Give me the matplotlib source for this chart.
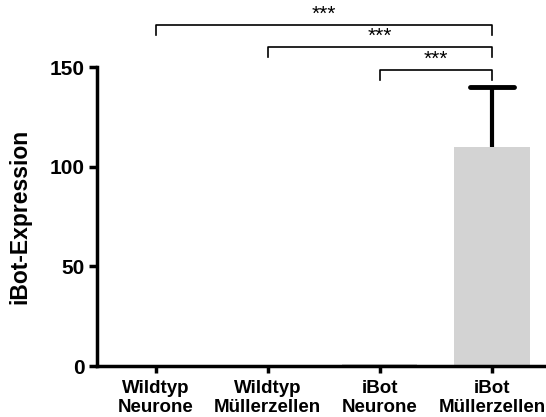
import matplotlib
matplotlib.use("Agg")
import matplotlib.pyplot as plt

plt.rcParams["font.family"] = ["Liberation Sans", "DejaVu Sans"]
plt.rcParams["font.weight"] = "bold"

categories = ["Wildtyp\nNeurone", "Wildtyp\nMüllerzellen", "iBot\nNeurone", "iBot\nMüllerzellen"]
expression = [0.0, 0.0, 0.8, 110.0]
error_up = [0.0, 0.0, 0.0, 30.0]
# (from index, to index, bracket height, label)
comparisons = [(0, 3, 171, "***"), (1, 3, 160, "***"), (2, 3, 148.5, "***")]

fig = plt.figure(figsize=(5.46, 4.17), dpi=100)
ax = fig.add_axes([0.178, 0.1223, 0.83, 0.717])

x = list(range(len(categories)))
ax.bar(x, expression, width=0.67, color="#d3d3d3", zorder=2)

# upward-only error bars
for xi, yi, e in zip(x, expression, error_up):
    if e > 0:
        ax.vlines(xi, yi, yi + e, color="black", lw=3, zorder=3, clip_on=False)
        ax.hlines(yi + e, xi - 0.2, xi + 0.2, color="black", lw=3.5,
                  zorder=3, clip_on=False, capstyle="round")

for i, j, h, label in comparisons:
    ax.plot([i, i, j, j], [h - 5, h, h, h - 5], color="black", lw=1.2,
            clip_on=False)
    ax.text((i + j) / 2, h + 0.5, label, ha="center", va="bottom", fontsize=15,
            fontweight="normal")

ax.set_xlim(-0.52, 3.52)
ax.set_ylim(0, 150)
ax.set_yticks([0, 50, 100, 150])
ax.set_xticks(x)
ax.set_xticklabels(categories, fontsize=13.5, fontweight="bold", linespacing=1.15)
ax.tick_params(axis="y", labelsize=15, width=2.5, length=6, pad=3)
ax.tick_params(axis="x", width=2.5, length=5, pad=5)
for lab in ax.get_yticklabels():
    lab.set_fontweight("bold")
ax.set_ylabel("iBot-Expression", fontsize=16.5, fontweight="bold", labelpad=13)

ax.spines["top"].set_visible(False)
ax.spines["right"].set_visible(False)
ax.spines["left"].set_linewidth(2.5)
ax.spines["bottom"].set_linewidth(2.5)

fig.savefig("out.png", dpi=100)
